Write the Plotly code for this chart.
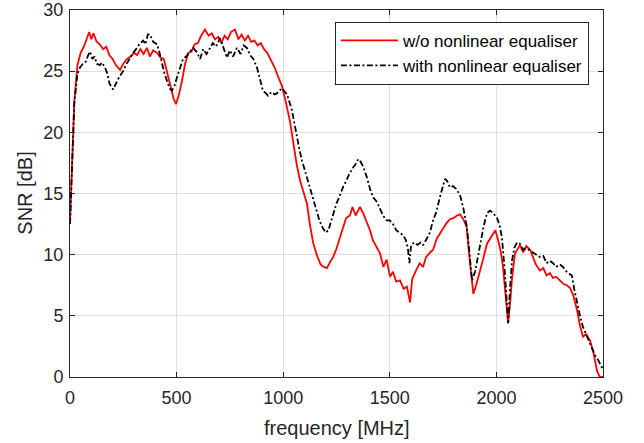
import plotly.graph_objects as go

freq_red = [0, 10, 20, 35, 50, 65, 80, 90, 100, 110, 125, 140, 155, 170, 185, 200, 215, 235, 250, 267,
            285, 300, 315, 330, 345, 361, 375, 390, 408, 425, 440, 455, 470, 485, 497, 510, 525, 540, 555, 570,
            585, 600, 615, 633, 650, 665, 680, 695, 710, 725, 740, 755, 774, 790, 805, 820, 835, 850, 865, 880,
            895, 910, 925, 947, 960, 975, 994, 1008, 1020, 1032, 1046, 1064, 1080, 1095, 1111, 1125, 1140, 1157, 1175, 1190,
            1205, 1220, 1234, 1250, 1266, 1280, 1295, 1313, 1325, 1340, 1360, 1375, 1390, 1407, 1420, 1440, 1454, 1470, 1485, 1501,
            1515, 1530, 1548, 1565, 1580, 1595, 1605, 1620, 1640, 1656, 1670, 1690, 1703, 1720, 1735, 1750, 1767, 1782, 1800, 1815,
            1829, 1845, 1860, 1875, 1892, 1905, 1923, 1940, 1956, 1970, 1985, 1995, 2008, 2020, 2031, 2045, 2055, 2065, 2073, 2087,
            2100, 2111, 2125, 2140, 2158, 2170, 2185, 2204, 2220, 2235, 2251, 2265, 2280, 2298, 2315, 2330, 2345, 2360, 2378, 2392,
            2406, 2420, 2439, 2455, 2472, 2485, 2500]
snr_red = [12.5, 18.0, 22.5, 25.5, 26.5, 27.0, 27.8, 28.2, 27.6, 28.1, 27.4, 27.2, 26.8, 27.0, 26.3, 26.0, 25.5, 25.1, 25.6, 26.0,
           26.2, 26.5, 26.3, 26.8, 26.4, 26.9, 26.2, 26.7, 26.5, 26.1, 26.0, 25.0, 23.8, 22.8, 22.3, 23.0, 24.2, 25.6, 26.5, 26.6,
           27.2, 27.3, 27.9, 28.4, 27.9, 28.1, 27.6, 27.8, 27.3, 27.9, 27.6, 28.2, 28.4, 27.6, 28.0, 27.5, 27.9, 27.4, 27.5, 27.1,
           27.3, 26.8, 26.5, 25.8, 25.3, 24.6, 23.8, 22.8, 21.8, 20.9, 19.3, 17.3, 16.0, 15.2, 14.2, 12.5, 11.0, 10.0, 9.2, 9.0,
           8.9, 9.4, 9.8, 10.5, 11.4, 12.3, 13.0, 13.2, 13.9, 13.2, 13.9, 13.4, 12.8, 12.0, 11.2, 10.6, 10.1, 9.0, 9.6, 8.2,
           8.6, 7.8, 7.9, 7.2, 7.4, 6.1, 8.0, 8.6, 9.3, 9.0, 9.8, 10.2, 10.4, 11.3, 11.7, 12.2, 12.6, 12.9, 13.0, 13.2,
           13.3, 12.9, 12.3, 9.5, 6.8, 7.5, 8.6, 9.8, 10.9, 11.3, 11.8, 12.0, 11.2, 10.3, 9.0, 6.0, 4.4, 6.2, 8.0, 10.1,
           10.5, 10.8, 10.2, 10.7, 10.4, 9.9, 9.2, 8.7, 8.9, 8.3, 8.5, 8.1, 8.2, 7.9, 7.6, 7.5, 7.3, 6.7, 5.5, 4.2,
           3.3, 3.5, 3.0, 2.0, 0.5, 0.0, 0.0]

freq_blk = [0, 10, 20, 35, 47, 60, 75, 85, 94, 105, 115, 126, 140, 150, 164, 175, 185, 202, 215, 230,
            249, 265, 280, 296, 310, 325, 343, 355, 365, 375, 390, 408, 420, 431, 443, 455, 467, 478, 490, 502,
            515, 530, 545, 560, 577, 593, 610, 625, 640, 657, 670, 685, 704, 720, 736, 750, 765, 783, 800, 815,
            830, 845, 860, 877, 890, 905, 918, 929, 945, 960, 971, 985, 994, 1018, 1030, 1041, 1052, 1064, 1076, 1088,
            1111, 1140, 1157, 1170, 1185, 1200, 1212, 1225, 1234, 1250, 1265, 1280, 1295, 1310, 1327, 1340, 1352, 1360, 1375, 1393,
            1407, 1421, 1440, 1455, 1468, 1485, 1500, 1515, 1530, 1545, 1562, 1575, 1585, 1592, 1600, 1615, 1630, 1645, 1656, 1670,
            1688, 1703, 1718, 1735, 1750, 1759, 1770, 1782, 1796, 1810, 1829, 1845, 1862, 1875, 1886, 1900, 1912, 1923, 1940, 1956,
            1970, 1985, 2003, 2015, 2026, 2040, 2055, 2065, 2073, 2085, 2097, 2110, 2125, 2144, 2160, 2175, 2190, 2204, 2220, 2235,
            2250, 2266, 2280, 2298, 2312, 2330, 2345, 2354, 2365, 2378, 2392, 2406, 2420, 2435, 2448, 2462, 2477, 2490, 2500]
snr_blk = [12.5, 18.0, 22.3, 24.8, 25.3, 25.6, 25.8, 26.3, 26.6, 26.0, 26.2, 25.6, 25.5, 25.7, 25.3, 24.8, 24.0, 23.5, 24.0, 24.5,
           25.0, 25.6, 26.0, 26.5, 26.8, 27.2, 27.5, 27.2, 28.0, 28.0, 27.4, 27.2, 26.5, 25.6, 24.8, 24.2, 23.6, 23.4, 23.8, 24.5,
           25.2, 26.0, 26.2, 26.5, 26.9, 26.6, 26.0, 26.8, 26.4, 26.9, 27.3, 27.0, 27.7, 26.9, 26.1, 26.7, 26.2, 26.9, 26.4, 27.1,
           26.9, 26.3, 26.0, 25.3, 24.5, 23.4, 23.2, 23.0, 23.3, 23.1, 23.2, 23.4, 23.6, 23.1, 22.5, 21.8, 20.8, 19.6, 18.6, 17.7,
           16.3, 14.5, 13.4, 12.8, 12.2, 11.8, 12.0, 12.8, 13.4, 14.2, 14.8, 15.5, 16.0, 16.6, 17.1, 17.4, 17.8, 17.7, 17.2, 16.3,
           15.4, 14.7, 14.3, 13.7, 13.2, 12.8, 12.8, 12.5, 12.0, 11.8, 11.6, 11.2, 10.5, 9.3, 10.8, 11.0, 10.8, 11.0, 10.8, 11.2,
           11.8, 12.8, 13.5, 14.7, 15.6, 16.2, 16.0, 15.5, 15.6, 15.4, 14.9, 13.8, 12.2, 9.8, 7.9, 8.6, 9.8, 10.6, 12.3, 13.4,
           13.6, 13.4, 13.0, 12.4, 11.4, 8.5, 4.4, 7.5, 9.5, 10.6, 11.0, 10.9, 10.4, 10.5, 10.3, 10.1, 9.9, 9.8, 9.9, 9.3,
           9.5, 9.3, 9.0, 9.2, 9.0, 8.6, 8.4, 8.3, 7.2, 6.0, 5.0, 4.1, 3.5, 3.0, 2.4, 1.8, 1.4, 1.0, 0.6]

x_ticks = [0, 500, 1000, 1500, 2000, 2500]
y_ticks = [0, 5, 10, 15, 20, 25, 30]
x_title = "frequency [MHz]"
y_title = "SNR [dB]"

FONT = "Liberation Sans, Arial, sans-serif"
TXT = "#262626"

fig = go.Figure()
fig.add_trace(go.Scatter(x=freq_red, y=snr_red, mode="lines", name="w/o nonlinear equaliser",
                         line=dict(color="#ff0000", width=1.8)))
fig.add_trace(go.Scatter(x=freq_blk, y=snr_blk, mode="lines", name="with nonlinear equaliser",
                         line=dict(color="#000000", width=1.8, dash="6px,2.5px,2px,2.5px")))

axis_common = dict(showline=True, linecolor=TXT, linewidth=1, mirror="ticks",
                   ticks="inside", ticklen=5, tickcolor=TXT,
                   showgrid=True, gridcolor="#dedede", gridwidth=1, zeroline=False,
                   automargin=False,
                   tickfont=dict(family=FONT, size=18, color=TXT))

fig.update_xaxes(range=[0, 2500], tickvals=x_ticks, ticklabelstandoff=4, **axis_common)
fig.update_yaxes(range=[0, 30], tickvals=y_ticks, ticklabelstandoff=2, **axis_common)

fig.add_annotation(text=x_title, xref="paper", yref="paper", x=0.5, y=-0.139,
                   xanchor="center", yanchor="middle", showarrow=False,
                   font=dict(family=FONT, size=20, color=TXT))
fig.add_annotation(text=y_title, xref="paper", yref="paper", x=-0.086, y=0.5,
                   xanchor="center", yanchor="middle", textangle=-90, showarrow=False,
                   font=dict(family=FONT, size=20, color=TXT))

fig.update_layout(
    width=644, height=443,
    margin=dict(l=70, r=41, t=10, b=66),
    paper_bgcolor="white", plot_bgcolor="white",
    font=dict(family=FONT, color=TXT),
    legend=dict(x=0.497, y=0.968, xanchor="left", yanchor="top",
                bgcolor="white", bordercolor=TXT, borderwidth=1,
                font=dict(family=FONT, size=17, color="#000000"),
                itemwidth=57, tracegroupgap=0),
    showlegend=True,
)

fig.write_html("out.html")
